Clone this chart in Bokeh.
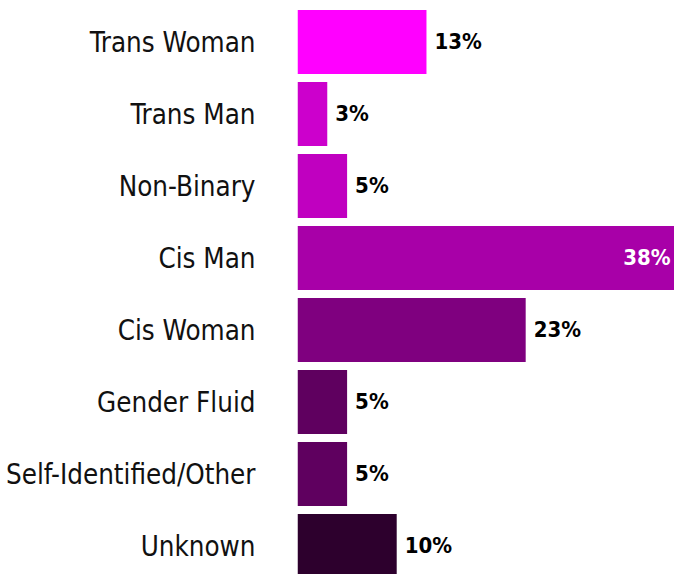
from bokeh.plotting import figure
from bokeh.models import ColumnDataSource, Range1d, FixedTicker
from bokeh.core.properties import value
from bokeh.embed import file_html
from bokeh.resources import INLINE

categories = ["Trans Woman", "Trans Man", "Non-Binary", "Cis Man", "Cis Woman",
              "Gender Fluid", "Self-Identified/Other", "Unknown"]
percents = [13, 3, 5, 38, 23, 5, 5, 10]
colors = ["#FF00FF", "#CC00CC", "#C000C0", "#A800A8", "#7F007F",
          "#5F005F", "#5F005F", "#2D002D"]
labels = [f"{v}%" for v in percents]

pos = list(range(len(categories)))
src = ColumnDataSource(dict(y=pos, right=percents, color=colors, label=labels, cat=categories))

inside = [i for i, v in enumerate(percents) if v >= 30]
outside = [i for i, v in enumerate(percents) if v < 30]
src_out = ColumnDataSource(dict(x=[percents[i] for i in outside], y=[pos[i] for i in outside],
                                label=[labels[i] for i in outside]))
src_in = ColumnDataSource(dict(x=[percents[i] for i in inside], y=[pos[i] for i in inside],
                               label=[labels[i] for i in inside]))

p = figure(width=674, height=574, output_backend="svg", toolbar_location=None,
           x_range=Range1d(0, 38), y_range=Range1d(7.396, -0.576),
           min_border_left=297, min_border_right=0, min_border_top=0, min_border_bottom=0)
p.outline_line_color = None
p.grid.visible = False
p.xaxis.visible = False
p.background_fill_color = "white"
p.border_fill_color = "white"

p.hbar(y="y", left=0, right="right", height=64/72, color="color", source=src, line_color=None)

font = "DejaVu Sans Condensed"
p.text(x="x", y="y", text="label", source=src_out, x_offset=8, text_align="left",
       text_baseline="middle", text_font=value(font), text_font_style="bold",
       text_font_size="22px", text_color="black")
p.text(x="x", y="y", text="label", source=src_in, x_offset=-4, text_align="right",
       text_baseline="middle", text_font=value(font), text_font_style="bold",
       text_font_size="22px", text_color="white")

ya = p.yaxis[0]
ya.ticker = FixedTicker(ticks=pos)
ya.major_label_overrides = {i: c for i, c in zip(pos, categories)}
ya.axis_line_color = None
ya.major_tick_line_color = None
ya.minor_tick_line_color = None
ya.major_tick_out = 0
ya.major_tick_in = 0
ya.major_label_standoff = 42
ya.major_label_text_font = font
ya.major_label_text_font_size = "27.5px"
ya.major_label_text_color = "#111111"

open("out.html", "w").write(file_html(p, INLINE))
